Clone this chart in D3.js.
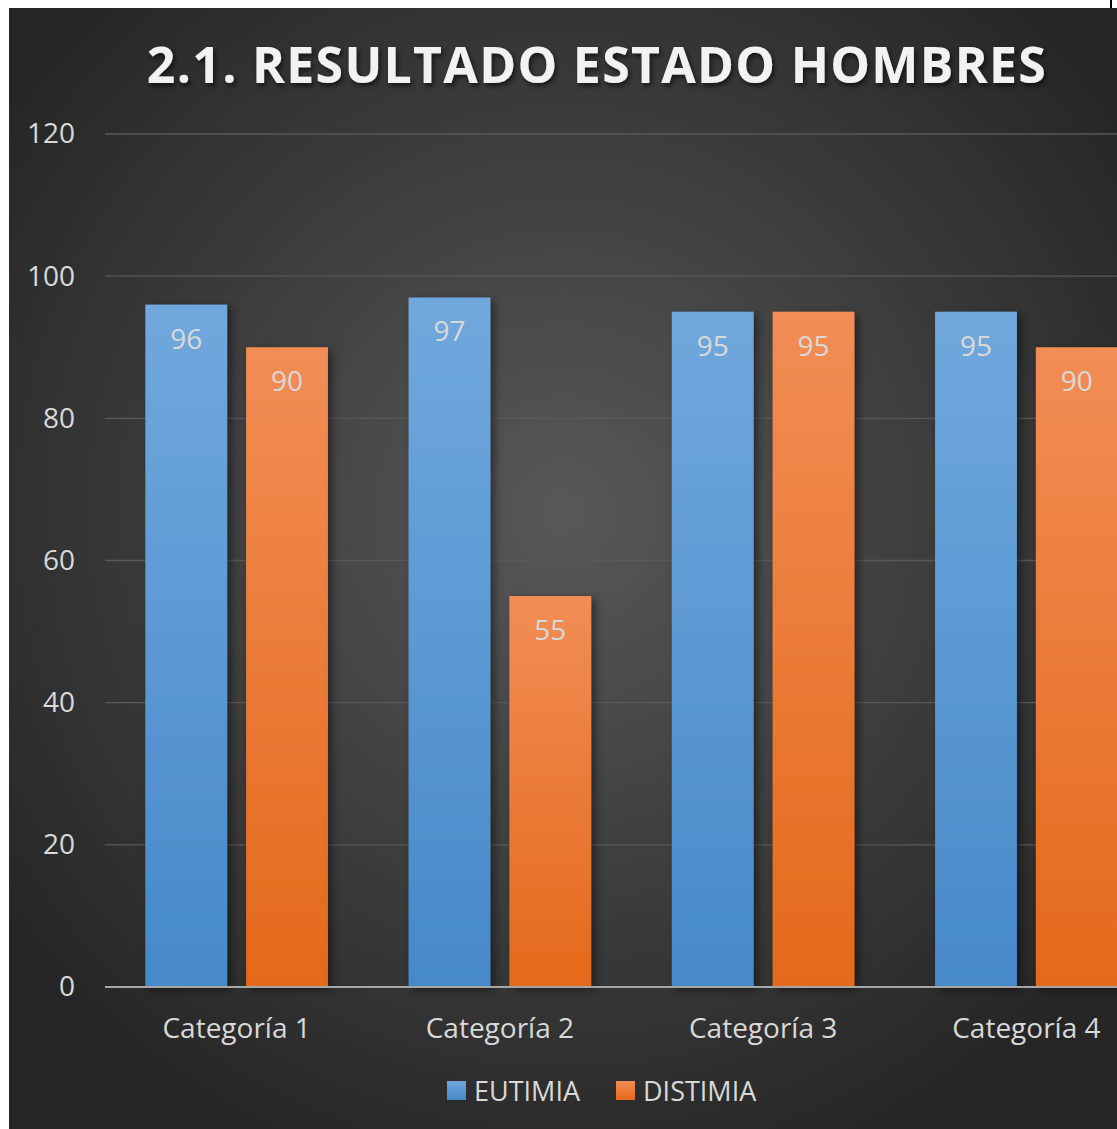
<!DOCTYPE html>
<html>
<head>
<meta charset="utf-8">
<script src="https://cdn.jsdelivr.net/npm/d3@7"></script>
<style>
  html, body { margin:0; padding:0; background:#fff; }
  svg { display:block; }
</style>
</head>
<body>
<svg id="chart"></svg>
<script>
// data
var categories = ['Categoría 1','Categoría 2','Categoría 3','Categoría 4'];
var seriesNames = ['EUTIMIA','DISTIMIA'];
var eutimia = [96, 97, 95, 95];
var distimia = [90, 55, 95, 90];
var yTicks = [0, 20, 40, 60, 80, 100, 120];

var width = 1117, height = 1129;
var frame = {left:9, top:8};
var plot = {left:105, right:1158, top:134, bottom:987};
var font = "'Open Sans', 'Noto Sans', sans-serif";

var svg = d3.select('#chart').attr('width', width).attr('height', height);
var defs = svg.append('defs');

// background radial gradient
var bg = defs.append('radialGradient').attr('id','bg')
  .attr('cx','50%').attr('cy','45%').attr('r','62%');
bg.append('stop').attr('offset','0%').attr('stop-color','#585858');
bg.append('stop').attr('offset','100%').attr('stop-color','#262626');

var gradB = defs.append('linearGradient').attr('id','gB').attr('x1',0).attr('y1',0).attr('x2',0).attr('y2',1);
gradB.append('stop').attr('offset','0%').attr('stop-color','#70a8dd');
gradB.append('stop').attr('offset','100%').attr('stop-color','#4689c9');
var gradO = defs.append('linearGradient').attr('id','gO').attr('x1',0).attr('y1',0).attr('x2',0).attr('y2',1);
gradO.append('stop').attr('offset','0%').attr('stop-color','#f28d55');
gradO.append('stop').attr('offset','100%').attr('stop-color','#e4691a');

var shadow = defs.append('filter').attr('id','sh').attr('x','-20%').attr('y','-20%').attr('width','150%').attr('height','140%');
shadow.append('feDropShadow').attr('dx',4).attr('dy',3).attr('stdDeviation',4)
  .attr('flood-color','#000').attr('flood-opacity',0.45);
var tshadow = defs.append('filter').attr('id','tsh').attr('x','-5%').attr('y','-20%').attr('width','110%').attr('height','150%');
tshadow.append('feDropShadow').attr('dx',2).attr('dy',3).attr('stdDeviation',2.5)
  .attr('flood-color','#000').attr('flood-opacity',0.6);

svg.append('rect').attr('x',frame.left).attr('y',frame.top)
  .attr('width',width - frame.left).attr('height',height - frame.top)
  .attr('fill','url(#bg)');
// little black tick at top right of the frame
svg.append('rect').attr('x',1110).attr('y',0).attr('width',2).attr('height',8).attr('fill','#000');

var x0 = d3.scaleBand().domain(categories).range([plot.left, plot.right]);
var x1 = d3.scaleBand().domain(seriesNames).range([0, x0.bandwidth()]).paddingInner(0.188).paddingOuter(0.40);
var y = d3.scaleLinear().domain([0, 120]).range([plot.bottom, plot.top]);

// gridlines
svg.append('g').selectAll('line').data(yTicks.filter(function(d){return d>0;})).join('line')
  .attr('x1', plot.left).attr('x2', width)
  .attr('y1', function(d){return y(d);}).attr('y2', function(d){return y(d);})
  .attr('stroke','#595959').attr('stroke-width',1.3);

// y axis labels
var axisY = d3.axisLeft(y).tickValues(yTicks).tickSize(0).tickPadding(0);
var ay = svg.append('g').attr('transform','translate(75,0)').call(axisY);
ay.select('.domain').remove();
ay.selectAll('text').attr('font-family',font).attr('font-size',28).attr('fill','#d9d9d9');

var rows = categories.map(function(c,i){ return {cat:c, vals:[eutimia[i], distimia[i]]}; });
var fills = ['url(#gB)','url(#gO)'];

var groups = svg.append('g').selectAll('g').data(rows).join('g')
  .attr('transform', function(d){ return 'translate(' + x0(d.cat) + ',0)'; });
groups.selectAll('rect').data(function(d){ return d.vals.map(function(v,j){return {s:seriesNames[j], v:v, j:j};}); })
  .join('rect')
  .attr('x', function(d){ return x1(d.s); })
  .attr('y', function(d){ return y(d.v); })
  .attr('width', x1.bandwidth())
  .attr('height', function(d){ return y(0) - y(d.v); })
  .attr('fill', function(d){ return fills[d.j]; })
  .attr('filter','url(#sh)');
groups.selectAll('text').data(function(d){ return d.vals.map(function(v,j){return {s:seriesNames[j], v:v};}); })
  .join('text')
  .attr('x', function(d){ return x1(d.s) + x1.bandwidth()/2; })
  .attr('y', function(d){ return y(d.v) + 44; })
  .attr('text-anchor','middle')
  .attr('font-family',font).attr('font-size',28).attr('fill','#d9d9d9')
  .text(function(d){ return d.v; });

// x axis
var axisX = d3.axisBottom(x0).tickSize(0).tickPadding(31);
var ax = svg.append('g').attr('transform','translate(0,' + plot.bottom + ')').call(axisX);
ax.select('.domain').attr('d','M' + plot.left + ',0H' + width).attr('stroke','#a6a6a6').attr('stroke-width',2);
ax.selectAll('text').attr('font-family',font).attr('font-size',28).attr('fill','#d9d9d9');

// title
svg.append('text').attr('x',597).attr('y',83).attr('text-anchor','middle')
  .attr('font-family',font).attr('font-weight','bold').attr('font-size',50)
  .attr('letter-spacing',1.3).attr('fill','#f2f2f2').attr('filter','url(#tsh)')
  .text('2.1. RESULTADO ESTADO HOMBRES');

// legend
var legendX = [447, 616];
var lg = svg.append('g').selectAll('g').data(seriesNames).join('g')
  .attr('transform', function(d,i){ return 'translate(' + legendX[i] + ',1081)'; });
lg.append('rect').attr('width',19).attr('height',19).attr('fill', function(d,i){ return fills[i]; });
lg.append('text').attr('x',27).attr('y',20).attr('font-family',font).attr('font-size',27)
  .attr('fill','#d9d9d9').text(function(d){ return d; });
</script>
</body>
</html>
